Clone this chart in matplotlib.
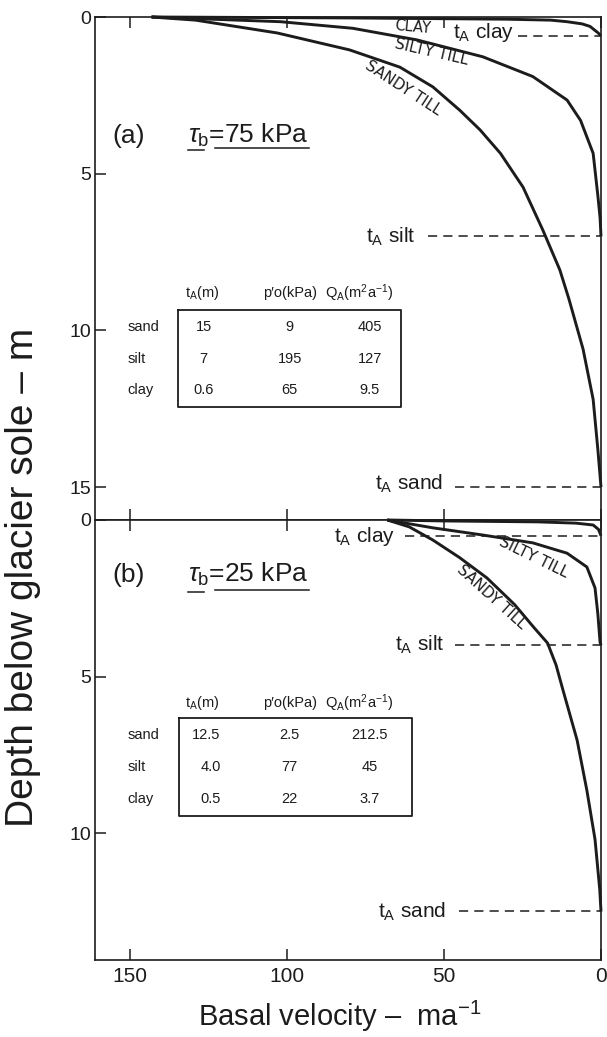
import matplotlib.pyplot as plt


# panel (a), tau_b = 75 kPa : depth below sole (m) vs basal velocity (m/a)
SAND_A_DEPTH = [0, 0.1, 0.51, 1.05, 1.6, 2.23, 2.97, 3.6, 4.35, 5.43, 6.8, 8.07, 9.0, 10.6, 12.2, 13.8, 15.0]
SAND_A_VEL = [143, 129, 103, 80, 64, 53.5, 45, 38.5, 32, 24.8, 18.5, 13.1, 10.2, 5.7, 2.5, 1.0, 0]
SILT_A_DEPTH = [0, 0.15, 0.36, 0.73, 1.27, 1.9, 2.65, 3.3, 4.35, 5.7, 6.4, 7.0]
SILT_A_VEL = [143, 102, 79, 58.6, 37.6, 21.7, 10.8, 6.5, 2.5, 1.0, 0.3, 0]
CLAY_A_DEPTH = [0, 0.03, 0.07, 0.1, 0.15, 0.22, 0.3, 0.5, 0.6]
CLAY_A_VEL = [143, 80, 30, 16, 10.8, 6, 3.5, 1.0, 0]

# panel (b), tau_b = 25 kPa
SAND_B_DEPTH = [0, 0.22, 0.64, 1.2, 1.85, 2.7, 3.45, 3.93, 4.63, 5.43, 7.03, 8.63, 10.2, 11.8, 12.5]
SAND_B_VEL = [68, 61, 53.5, 45, 36.3, 27.5, 21.2, 17.0, 14.3, 12.1, 7.6, 4.5, 1.9, 0.4, 0]
SILT_B_DEPTH = [0, 0.25, 0.48, 0.73, 1.06, 1.5, 2.17, 3.0, 3.9, 4.0]
SILT_B_VEL = [68, 53.5, 37.6, 21.7, 10.8, 4.5, 1.9, 1.0, 0.3, 0]
CLAY_B_DEPTH = [0, 0.03, 0.06, 0.1, 0.16, 0.3, 0.5]
CLAY_B_VEL = [68, 50, 20, 8, 2.5, 0.8, 0]

# tables
ROW_NAMES = ["sand", "silt", "clay"]
TA_A = ["15", "7", "0.6"]
PO_A = ["9", "195", "65"]
QA_A = ["405", "127", "9.5"]
TA_B = ["12.5", "4.0", "0.5"]
PO_B = ["2.5", "77", "22"]
QA_B = ["212.5", "45", "3.7"]

# t_A depths drawn as dashed markers (sand, silt, clay)
TA_DEPTH_A = [15.0, 7.0, 0.6]
TA_DEPTH_B = [12.5, 4.0, 0.5]

X_TICKS = [150, 100, 50, 0]

INK = "#1c1c1c"
HEADERS = ["t$_{\\rm A}$(m)", "p\u2032o(kPa)", "Q$_{\\rm A}$(m$^2$a$^{-1}$)"]


def setup_axes(ax, ymax, yticks):
    ax.set_xlim(161, 0)
    ax.set_ylim(ymax, 0)
    ax.set_xticks(X_TICKS)
    ax.set_yticks(yticks)
    ax.tick_params(direction="in", length=8, width=1.1, top=True, bottom=True,
                   colors=INK, pad=4)
    ax.tick_params(axis="y", labelsize=14, pad=3)
    ax.tick_params(axis="x", labelsize=15, pad=5)
    for sp in ax.spines.values():
        sp.set_linewidth(1.2)
        sp.set_color(INK)


def draw_curves(ax, curves):
    for depth, vel in curves:
        ax.plot(vel, depth, color=INK, lw=2.1, solid_capstyle="butt",
                solid_joinstyle="round", clip_on=False)


def draw_ta_marker(ax, depth, label, text_x, dash_x, text_y=None):
    ax.text(text_x, depth if text_y is None else text_y, label, ha="right", va="center",
            fontsize=15, color=INK)
    ax.plot([dash_x, 0], [depth, depth], color=INK, lw=1.1, ls=(0, (6, 4)))


def draw_title(ax, tag, value, base_y, line_y):
    ax.text(155.6, base_y, tag, fontsize=19, color=INK, va="baseline")
    ax.text(131.4, base_y, "$\\tau_{\\rm b}$=" + value + " kPa", fontsize=19, color=INK,
            va="baseline")
    ax.plot([131.4, 126.3], [line_y + 0.07, line_y + 0.07], color=INK, lw=1.1)
    ax.plot([122.8, 93.0], [line_y, line_y], color=INK, lw=1.1)


def draw_table(ax, ta, po, qa, rows_y, header_y, box, ta_x, ta_ha):
    left, right, top, bottom = box
    ax.plot([left, right, right, left, left], [top, top, bottom, bottom, top],
            color=INK, lw=1.3)
    ax.text(127, header_y, HEADERS[0], ha="center", va="center", fontsize=10.5, color=INK)
    ax.text(99, header_y, HEADERS[1], ha="center", va="center", fontsize=10.5, color=INK)
    ax.text(77, header_y, HEADERS[2], ha="center", va="center", fontsize=10.5, color=INK)
    for name, a, b, c, y in zip(ROW_NAMES, ta, po, qa, rows_y):
        ax.text(150.6, y, name, ha="left", va="center", fontsize=10.5, color=INK)
        ax.text(ta_x, y, a, ha=ta_ha, va="center", fontsize=10.5, color=INK)
        ax.text(99, y, b, ha="center", va="center", fontsize=10.5, color=INK)
        ax.text(73.5, y, c, ha="center", va="center", fontsize=10.5, color=INK)


def curve_label(ax, x, y, text, rot, size=11):
    ax.text(x, y, text, ha="center", va="center", rotation=rot, fontsize=size,
            family="DejaVu Sans", color=INK, rotation_mode="anchor")


def main() -> None:
    plt.rcParams["font.family"] = ["Liberation Sans", "DejaVu Sans"]
    plt.rcParams["mathtext.fontset"] = "custom"
    plt.rcParams["mathtext.rm"] = "Liberation Sans"
    plt.rcParams["mathtext.it"] = "Liberation Sans:italic"

    fig = plt.figure(figsize=(6.07, 10.37), dpi=100)
    left, width = 95 / 607, 506 / 607
    ax_a = fig.add_axes([left, 1 - 520 / 1037, width, 503 / 1037])
    ax_b = fig.add_axes([left, 1 - 960 / 1037, width, 440 / 1037])

    # panel (a)
    setup_axes(ax_a, 16.05, [0, 5, 10, 15])
    ax_a.tick_params(axis="x", labelbottom=False)
    draw_curves(ax_a, [(SAND_A_DEPTH, SAND_A_VEL), (SILT_A_DEPTH, SILT_A_VEL),
                       (CLAY_A_DEPTH, CLAY_A_VEL)])
    draw_ta_marker(ax_a, TA_DEPTH_A[2], "t$_{\\rm A}$ clay", 27.5, 26.5, text_y=0.5)
    draw_ta_marker(ax_a, TA_DEPTH_A[1], "t$_{\\rm A}$ silt", 59, 55)
    draw_ta_marker(ax_a, TA_DEPTH_A[0], "t$_{\\rm A}$ sand", 50.3, 46.5, text_y=14.9)
    curve_label(ax_a, 60, 0.33, "CLAY", -5, size=10.5)
    curve_label(ax_a, 54, 1.12, "SILTY TILL", -13)
    curve_label(ax_a, 63, 2.27, "SANDY TILL", -33)
    draw_title(ax_a, "(a)", "75", 4.02, 4.18)
    draw_table(ax_a, TA_A, PO_A, QA_A, [9.9, 10.9, 11.9], 8.8,
               (134.7, 63.7, 9.35, 12.45), 126.4, "center")

    # panel (b)
    setup_axes(ax_b, 14.05, [0, 5, 10])
    draw_curves(ax_b, [(SAND_B_DEPTH, SAND_B_VEL), (SILT_B_DEPTH, SILT_B_VEL),
                       (CLAY_B_DEPTH, CLAY_B_VEL)])
    draw_ta_marker(ax_b, TA_DEPTH_B[2], "t$_{\\rm A}$ clay", 65.6, 62.4, text_y=0.54)
    draw_ta_marker(ax_b, TA_DEPTH_B[1], "t$_{\\rm A}$ silt", 49.7, 46.5)
    draw_ta_marker(ax_b, TA_DEPTH_B[0], "t$_{\\rm A}$ sand", 49.3, 45.2)
    curve_label(ax_b, 21.3, 1.18, "SILTY TILL", -26)
    curve_label(ax_b, 34.7, 2.46, "SANDY TILL", -42)
    draw_title(ax_b, "(b)", "25", 1.98, 2.24)
    draw_table(ax_b, TA_B, PO_B, QA_B, [6.87, 7.89, 8.91], 5.85,
               (134.4, 60.2, 6.33, 9.46), 121, "right")

    fig.text(340 / 607, 1 - 1016 / 1037, "Basal velocity \u2013  ma$^{-1}$",
             ha="center", va="center", fontsize=21, color=INK)
    fig.text(23 / 607, 1 - 577 / 1037, "Depth below glacier sole \u2013 m", rotation=90,
             ha="center", va="center", fontsize=28, color=INK)

    fig.savefig("out.png", dpi=100, facecolor="white")
    plt.close(fig)


if __name__ == "__main__":
    main()
